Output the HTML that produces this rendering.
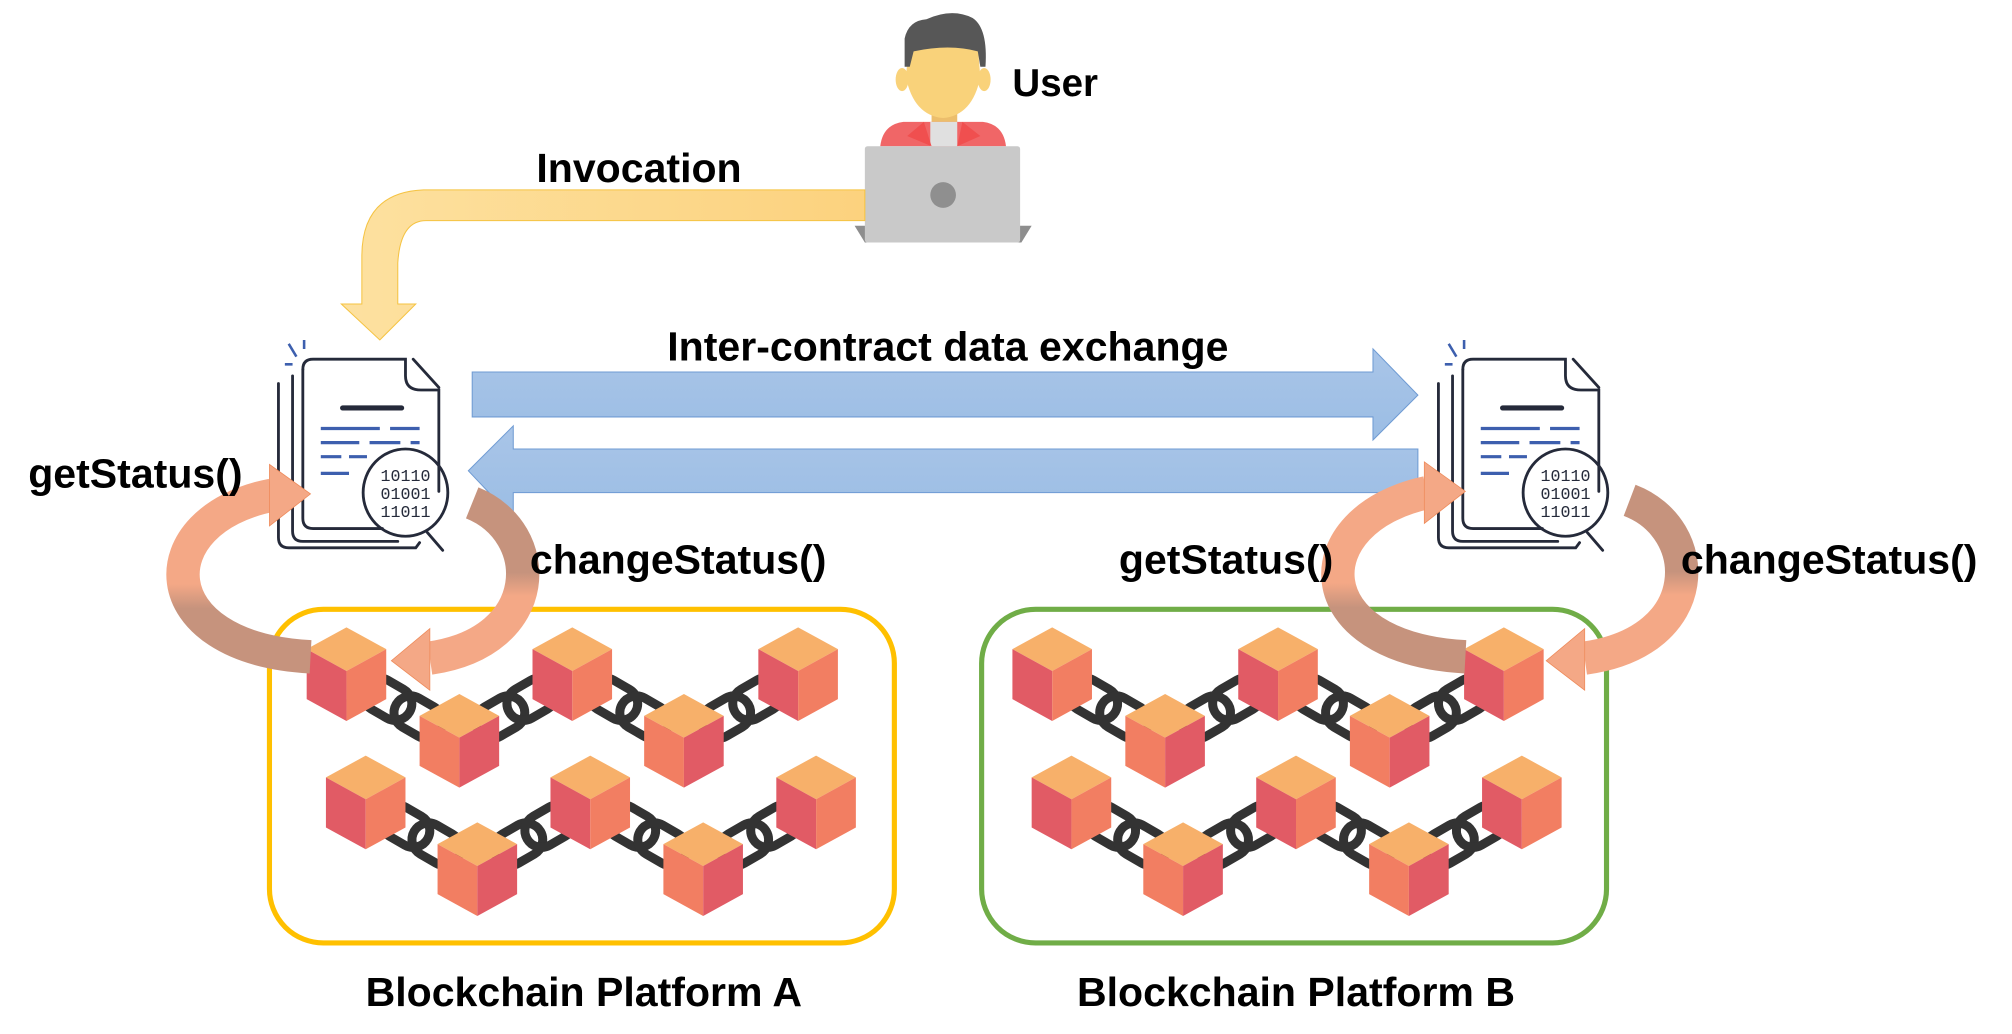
<!DOCTYPE html>
<html><head><meta charset="utf-8"><style>
html,body{margin:0;padding:0;background:#fff;}
svg{display:block;}
text{font-family:"Liberation Sans",Arial,sans-serif;font-weight:bold;fill:#000;}
text.bin{font-family:"Liberation Mono",monospace;font-weight:normal;fill:#252a3a;}
</style></head><body>
<svg width="2012" height="1034" viewBox="0 0 1568 806" preserveAspectRatio="none" xmlns="http://www.w3.org/2000/svg">
<defs>
<linearGradient id="yel" x1="0" y1="0" x2="1" y2="0"><stop offset="0" stop-color="#fde1a0"/><stop offset="1" stop-color="#fcd27e"/></linearGradient>
<linearGradient id="blu" x1="0" y1="0" x2="0" y2="1"><stop offset="0" stop-color="#a9c5e8"/><stop offset="1" stop-color="#9bbde4"/></linearGradient>
<linearGradient id="gA1" x1="0" y1="0" x2="0" y2="1"><stop offset="0" stop-color="#f4a886"/><stop offset="0.55" stop-color="#f4a886"/><stop offset="0.7" stop-color="#c6937d"/><stop offset="1" stop-color="#c6937d"/></linearGradient>
<linearGradient id="gA2" x1="0" y1="0" x2="0" y2="1"><stop offset="0" stop-color="#c6937d"/><stop offset="0.45" stop-color="#c6937d"/><stop offset="0.6" stop-color="#f4a886"/><stop offset="1" stop-color="#f4a886"/></linearGradient>
<g id="cubeL">
<polygon points="0,-36 31,-19 0,-2 -31,-19" fill="#f7b06a"/>
<polygon points="-31,-19 0,-2 0,37 -31,20" fill="#e15b65"/>
<polygon points="0,-2 31,-19 31,20 0,37" fill="#f27e62"/>
</g>
<g id="cubeR">
<polygon points="0,-36 31,-19 0,-2 -31,-19" fill="#f7b06a"/>
<polygon points="-31,-19 0,-2 0,37 -31,20" fill="#f27e62"/>
<polygon points="0,-2 31,-19 31,20 0,37" fill="#e15b65"/>
</g>
<g id="linkD" fill="none" stroke="#333" stroke-width="7">
<rect x="-34" y="-13" width="40" height="26" rx="13" transform="rotate(30)"/>
<rect x="-6" y="-13" width="40" height="26" rx="13" transform="rotate(30)"/>
</g>
<g id="linkU" fill="none" stroke="#333" stroke-width="7">
<rect x="-34" y="-13" width="40" height="26" rx="13" transform="rotate(-30)"/>
<rect x="-6" y="-13" width="40" height="26" rx="13" transform="rotate(-30)"/>
</g>
<g id="chain">
<use href="#linkD" x="314" y="552"/><use href="#linkU" x="402" y="552"/>
<use href="#linkD" x="490" y="552"/><use href="#linkU" x="578" y="552"/>
<use href="#cubeL" x="270" y="525"/><use href="#cubeR" x="358" y="577"/>
<use href="#cubeL" x="446" y="525"/><use href="#cubeR" x="533" y="577"/>
<use href="#cubeL" x="622" y="525"/>
<use href="#linkD" x="328" y="651"/><use href="#linkU" x="416" y="651"/>
<use href="#linkD" x="504" y="651"/><use href="#linkU" x="592" y="651"/>
<use href="#cubeL" x="285" y="625"/><use href="#cubeR" x="372" y="677"/>
<use href="#cubeL" x="460" y="625"/><use href="#cubeR" x="548" y="677"/>
<use href="#cubeL" x="636" y="625"/>
</g>
<g id="doc">
<g fill="none" stroke="#252a3a" stroke-width="2.2" stroke-linecap="round">
<path d="M36 23 Q36 15 44 15 L116 15 L116 28 Q116 39 128 39 L142 39 L142 118"/>
<path d="M122 15 L142 37"/>
<path d="M36 23 L36 139 Q36 147 44 147 L98 147"/>
<path d="M28 28 L28 149 Q28 157 36 157 L110 157"/>
<path d="M17 34 L17 154 Q17 162 25 162 L124 162 L127 158"/>
<path d="M67 53 L113 53" stroke-width="4"/>
<ellipse cx="116" cy="119" rx="33" ry="34"/>
<path d="M133 150 L145 164"/>
</g>
<g fill="none" stroke="#3d5fae" stroke-width="2.5">
<path d="M50 69 L96 69 M104 69 L127 69 M50 80 L80 80 M88 80 L112 80 M120 80 L127 80 M50 91 L66 91 M72 91 L86 91 M50 104 L72 104"/>
<path d="M25 3 L31 13 M37 0 L37 7 M22 19 L28 19" stroke-width="2"/>
</g>
<text class="bin" x="116" y="110" font-size="13" text-anchor="middle">10110</text>
<text class="bin" x="116" y="124" font-size="13" text-anchor="middle">01001</text>
<text class="bin" x="116" y="138" font-size="13" text-anchor="middle">11011</text>
</g>
</defs>

<!-- user -->
<rect x="726" y="82" width="20" height="18" fill="#ecbe6c"/>
<path d="M686 114 Q688 97 704 95 L766 95 Q782 97 784 114 Z" fill="#f06667"/>
<path d="M725 95 L746 95 L746 114 L725 114 Z" fill="#e0e0e0"/>
<path d="M707 106 L720 95 L726 114 Z M764 106 L750 95 L746 114 Z" fill="#f04f4f"/>
<ellipse cx="703" cy="62" rx="5" ry="9" fill="#f9d27a"/><ellipse cx="767" cy="62" rx="5" ry="9" fill="#f9d27a"/>
<path d="M708 38 Q735 30 762 36 L764 60 Q758 90 735 92 Q712 90 706 60 Z" fill="#f9d27a"/>
<path d="M705 52 L705 30 Q708 16 722 15 Q742 6 758 14 Q770 22 768 52 L764 52 L762 40 Q740 34 712 40 L709 52 Z" fill="#575757"/>
<path d="M666 176 L804 176 L796 189 L674 189 Z" fill="#8e8e8e"/>
<rect x="674" y="114" width="121" height="75" rx="2" fill="#c9c9c9"/>
<circle cx="735" cy="152" r="10" fill="#8f8f8f"/>
<text x="789" y="75" font-size="30">User</text>

<!-- invocation arrow -->
<path d="M674 148 L330 148 Q282 150 282 200 L282 237 L266 237 L296 265 L324 237 L310 237 L310 205 Q312 172 332 172 L674 172 Z" fill="url(#yel)" stroke="#f5c342" stroke-width="0.8"/>
<text x="418" y="142" font-size="32">Invocation</text>

<!-- blue arrows -->
<text x="520" y="281" font-size="32">Inter-contract data exchange</text>
<path d="M368 290 L1070 290 L1070 272 L1105 308 L1070 343 L1070 325 L368 325 Z" fill="url(#blu)" stroke="#6f9bd3" stroke-width="0.8"/>
<path d="M1105 350 L400 350 L400 332 L365 367 L400 404 L400 384 L1105 384 Z" fill="url(#blu)" stroke="#6f9bd3" stroke-width="0.8"/>

<!-- docs -->
<use href="#doc" x="200" y="265"/>
<use href="#doc" x="1104" y="265"/>

<!-- boxes -->
<rect x="210" y="475" width="487" height="260" rx="42" fill="none" stroke="#ffc000" stroke-width="4"/>
<rect x="765" y="475" width="487" height="260" rx="42" fill="none" stroke="#70ad47" stroke-width="4"/>
<use href="#chain"/>
<use href="#chain" x="550"/>

<!-- circular arrows A -->
<path d="M242 512 C 115 505, 115 405, 212 386" fill="none" stroke="url(#gA1)" stroke-width="26"/>
<polygon points="210,362 210,410 242,385" fill="#f4a886" stroke="#ee8a5a" stroke-width="0.6"/>
<path d="M368 392 C 425 415, 425 500, 335 513" fill="none" stroke="url(#gA2)" stroke-width="26"/>
<polygon points="335,490 335,538 305,515" fill="#f4a886" stroke="#ee8a5a" stroke-width="0.6"/>
<!-- circular arrows B -->
<path d="M1142 512 C 1015 505, 1015 405, 1112 384" fill="none" stroke="url(#gA1)" stroke-width="26"/>
<polygon points="1110,360 1110,408 1142,383" fill="#f4a886" stroke="#ee8a5a" stroke-width="0.6"/>
<path d="M1270 390 C 1328 412, 1330 500, 1235 513" fill="none" stroke="url(#gA2)" stroke-width="26"/>
<polygon points="1235,490 1235,538 1205,515" fill="#f4a886" stroke="#ee8a5a" stroke-width="0.6"/>

<!-- labels -->
<text x="22" y="380" font-size="32">getStatus()</text>
<text x="413" y="447" font-size="32">changeStatus()</text>
<text x="872" y="447" font-size="32">getStatus()</text>
<text x="1310" y="447" font-size="32">changeStatus()</text>
<text x="455" y="784" font-size="32" text-anchor="middle">Blockchain Platform A</text>
<text x="1010" y="784" font-size="32" text-anchor="middle">Blockchain Platform B</text>
</svg>
</body></html>
